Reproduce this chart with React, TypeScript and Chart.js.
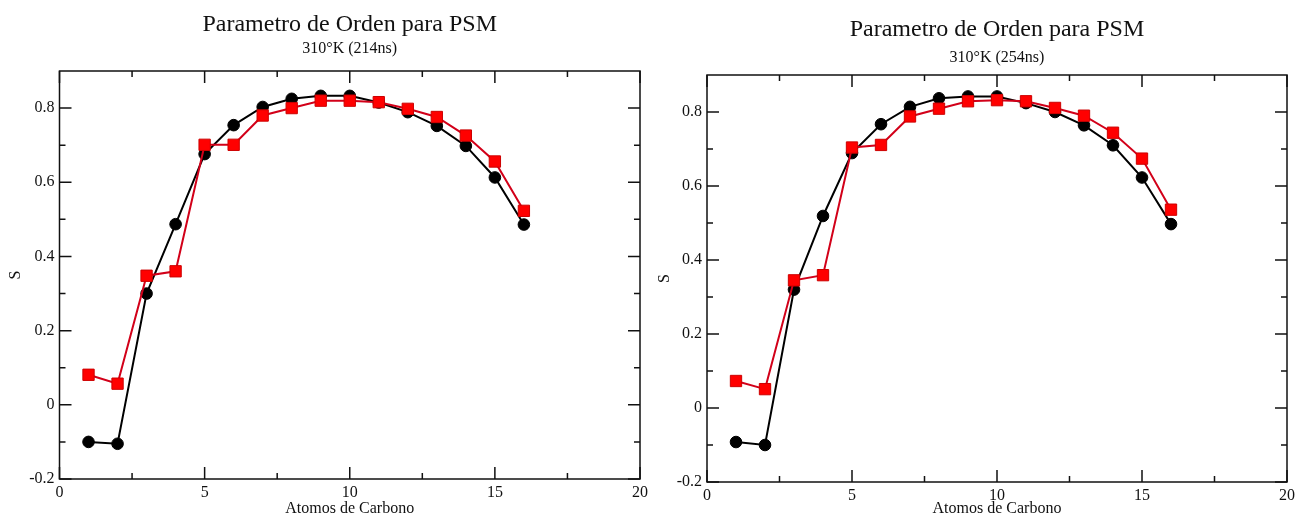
import React, { useEffect, useRef } from "react";
import { Chart, registerables } from "chart.js";

Chart.register(...registerables);

// ---------- data ----------
const CARBON_ATOMS = [1, 2, 3, 4, 5, 6, 7, 8, 9, 10, 11, 12, 13, 14, 15, 16];

const LEFT_BLACK = [-0.1, -0.105, 0.3, 0.487, 0.676, 0.754, 0.803, 0.825, 0.833, 0.833, 0.815, 0.789, 0.752, 0.698, 0.613, 0.486];
const LEFT_RED = [0.081, 0.057, 0.348, 0.36, 0.701, 0.701, 0.78, 0.8, 0.82, 0.82, 0.816, 0.798, 0.776, 0.726, 0.656, 0.523];

const RIGHT_BLACK = [-0.092, -0.1, 0.32, 0.519, 0.689, 0.767, 0.814, 0.837, 0.842, 0.842, 0.824, 0.8, 0.764, 0.71, 0.623, 0.497];
const RIGHT_RED = [0.073, 0.051, 0.345, 0.359, 0.704, 0.711, 0.788, 0.809, 0.829, 0.832, 0.829, 0.811, 0.79, 0.744, 0.674, 0.536];

const X_MAJOR_TICKS = [0, 5, 10, 15, 20];
const X_MINOR_TICKS = [2.5, 7.5, 12.5, 17.5];
const Y_MAJOR_TICKS = [-0.2, 0, 0.2, 0.4, 0.6, 0.8];
const Y_MINOR_TICKS = [-0.1, 0.1, 0.3, 0.5, 0.7];

const TITLE = "Parametro de Orden para PSM";
const LEFT_SUBTITLE = "310°K (214ns)";
const RIGHT_SUBTITLE = "310°K (254ns)";
const X_LABEL = "Atomos de Carbono";
const Y_LABEL = "S";

const FONT = "'Liberation Serif', 'DejaVu Serif', 'Times New Roman', serif";

// ---------- frame + inward ticks plugin ----------
const framePlugin = {
  id: "frameTicks",
  afterDatasetsDraw(chart: any) {
    const { ctx, chartArea } = chart;
    const xs = chart.scales.x;
    const ys = chart.scales.y;
    const { left, right, top, bottom } = chartArea;
    ctx.save();
    ctx.strokeStyle = "#111";
    ctx.lineWidth = 1.5;
    ctx.strokeRect(left, top, right - left, bottom - top);
    const MAJ = 12;
    const MIN = 6;
    ctx.beginPath();
    const xt = (v: number, len: number) => {
      const px = xs.getPixelForValue(v);
      ctx.moveTo(px, bottom);
      ctx.lineTo(px, bottom - len);
      ctx.moveTo(px, top);
      ctx.lineTo(px, top + len);
    };
    const yt = (v: number, len: number) => {
      const py = ys.getPixelForValue(v);
      ctx.moveTo(left, py);
      ctx.lineTo(left + len, py);
      ctx.moveTo(right, py);
      ctx.lineTo(right - len, py);
    };
    X_MAJOR_TICKS.forEach((v) => xt(v, MAJ));
    X_MINOR_TICKS.forEach((v) => xt(v, MIN));
    Y_MAJOR_TICKS.forEach((v) => yt(v, MAJ));
    Y_MINOR_TICKS.forEach((v) => yt(v, MIN));
    ctx.stroke();
    ctx.restore();
  },
};

type PanelProps = {
  subtitle: string;
  black: number[];
  red: number[];
  padRight: number;
  yWidth: number;
  xHeight: number;
  titlePad: { top: number; bottom: number };
  subPad: { top: number; bottom: number };
};

function Panel(props: PanelProps) {
  const ref = useRef<HTMLCanvasElement | null>(null);
  useEffect(() => {
    if (!ref.current) return;
    const chart = new Chart(ref.current, {
      type: "line",
      data: {
        datasets: [
          {
            label: "black",
            data: CARBON_ATOMS.map((x, i) => ({ x, y: props.black[i] })),
            borderColor: "#000",
            backgroundColor: "#000",
            borderWidth: 2,
            pointStyle: "circle",
            pointRadius: 5.8,
            pointBorderWidth: 1,
            pointBorderColor: "#000",
            order: 1,
          },
          {
            label: "red",
            data: CARBON_ATOMS.map((x, i) => ({ x, y: props.red[i] })),
            borderColor: "rgb(210,0,25)",
            backgroundColor: "rgb(255,0,0)",
            borderWidth: 2,
            pointStyle: "rect",
            pointRadius: 8,
            pointBorderWidth: 1,
            pointBorderColor: "rgb(205,0,0)",
            order: 0,
          },
        ],
      },
      options: {
        responsive: false,
        animation: false,
        layout: { padding: { left: 0, right: props.padRight, top: 0, bottom: 0 } },
        plugins: {
          legend: { display: false },
          tooltip: { enabled: false },
          title: {
            display: true,
            text: TITLE,
            fullSize: false,
            color: "#111",
            font: { family: FONT, size: 24, weight: "normal" },
            padding: props.titlePad,
          },
          subtitle: {
            display: true,
            text: props.subtitle,
            fullSize: false,
            color: "#111",
            font: { family: FONT, size: 16, weight: "normal" },
            padding: props.subPad,
          },
        },
        scales: {
          x: {
            type: "linear",
            min: 0,
            max: 20,
            grid: { display: false, drawTicks: false },
            border: { display: false },
            afterBuildTicks: (s: any) => {
              s.ticks = X_MAJOR_TICKS.map((v) => ({ value: v }));
            },
            afterFit: (s: any) => {
              s.height = props.xHeight;
              s.paddingLeft = 0;
              s.paddingRight = 0;
            },
            ticks: {
              color: "#111",
              padding: 4,
              maxRotation: 0,
              font: { family: FONT, size: 16 },
              callback: (v: any) => String(v),
            },
            title: {
              display: true,
              text: X_LABEL,
              color: "#111",
              font: { family: FONT, size: 16 },
              padding: { top: 0, bottom: 0 },
            },
          },
          y: {
            type: "linear",
            min: -0.2,
            max: 0.9,
            grid: { display: false, drawTicks: false },
            border: { display: false },
            afterBuildTicks: (s: any) => {
              s.ticks = Y_MAJOR_TICKS.map((v) => ({ value: v }));
            },
            afterFit: (s: any) => {
              s.width = props.yWidth;
              s.paddingTop = 0;
              s.paddingBottom = 0;
            },
            ticks: {
              color: "#111",
              padding: 5,
              font: { family: FONT, size: 16 },
              callback: (v: any) => {
                const n = Math.round(Number(v) * 10) / 10;
                return n === 0 ? "0" : String(n);
              },
            },
            title: {
              display: true,
              text: Y_LABEL,
              color: "#111",
              font: { family: FONT, size: 16 },
              padding: { top: 6, bottom: 0 },
            },
          },
        },
      } as any,
      plugins: [framePlugin],
    });
    return () => chart.destroy();
  }, []);
  return <canvas ref={ref} width={649} height={518} />;
}

export default function App() {
  return (
    <div style={{ position: "fixed", left: 0, top: 0, width: 1298, height: 518, background: "#fff" }}>
      <div style={{ position: "absolute", left: 0, top: 0, width: 649, height: 518 }}>
        <Panel
          subtitle={LEFT_SUBTITLE}
          black={LEFT_BLACK}
          red={LEFT_RED}
          padRight={6.5}
          yWidth={59.5}
          xHeight={39}
          titlePad={{ top: 10, bottom: 0 }}
          subPad={{ top: 0, bottom: 13 }}
        />
      </div>
      <div style={{ position: "absolute", left: 649, top: 0, width: 649, height: 518 }}>
        <Panel
          subtitle={RIGHT_SUBTITLE}
          black={RIGHT_BLACK}
          red={RIGHT_RED}
          padRight={11}
          yWidth={58}
          xHeight={36}
          titlePad={{ top: 15.6, bottom: 0 }}
          subPad={{ top: 4, bottom: 7.4 }}
        />
      </div>
    </div>
  );
}
